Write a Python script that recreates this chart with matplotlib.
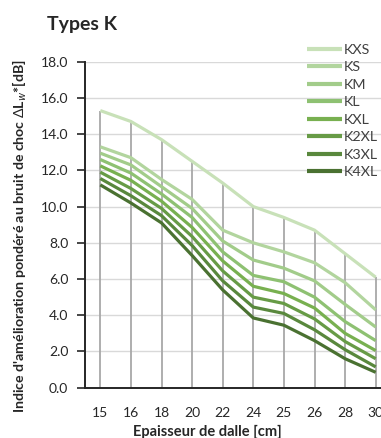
import matplotlib
matplotlib.use("Agg")
import matplotlib.pyplot as plt
import numpy as np

plt.rcParams['font.family'] = ['Lato', 'DejaVu Sans']
plt.rcParams['mathtext.fontset'] = 'custom'
plt.rcParams['mathtext.rm'] = 'Lato'
plt.rcParams['mathtext.bf'] = 'Lato:bold'

# Slab thickness categories (cm)
thickness = ["15", "16", "18", "20", "22", "24", "25", "26", "28", "30"]

# Impact sound improvement index per product type (dB)
KXS = [15.3, 14.7, 13.7, 12.5, 11.3, 10.0, 9.4, 8.7, 7.4, 6.1]
KS = [13.3, 12.7, 11.5, 10.4, 8.7, 8.0, 7.5, 6.9, 5.8, 4.3]
KM = [12.95, 12.3, 11.1, 9.9, 8.1, 7.05, 6.6, 5.9, 4.6, 3.35]
KL = [12.6, 11.85, 10.7, 9.4, 7.5, 6.2, 5.85, 5.0, 3.65, 2.6]
KXL = [12.25, 11.45, 10.3, 8.85, 7.0, 5.6, 5.2, 4.4, 3.0, 2.05]
K2XL = [11.9, 11.0, 9.9, 8.35, 6.45, 5.0, 4.65, 3.8, 2.55, 1.6]
K3XL = [11.55, 10.6, 9.5, 7.85, 5.9, 4.45, 4.1, 3.2, 2.1, 1.15]
K4XL = [11.2, 10.2, 9.1, 7.3, 5.4, 3.85, 3.45, 2.6, 1.6, 0.85]

series_names = ["KXS", "KS", "KM", "KL", "KXL", "K2XL", "K3XL", "K4XL"]
series_values = [KXS, KS, KM, KL, KXL, K2XL, K3XL, K4XL]
colors = ["#c8e1b8", "#b2d59e", "#a2cc8a", "#8ec172", "#78b050", "#679b46",
          "#59883d", "#4a7131"]

y_ticks = [0, 2, 4, 6, 8, 10, 12, 14, 16, 18]

W, H = 381, 438
fig = plt.figure(figsize=(W / 100, H / 100), dpi=100)
ax = fig.add_axes([85 / W, 50.3 / H, 306 / W, 326 / H])

x = np.arange(len(thickness))

# horizontal grid
for yt in y_ticks:
    ax.axhline(yt, color="#d9d9d9", lw=1.0, zorder=0)

# drop lines from the upper series down to the axis
ax.vlines(x, 0, KXS, colors="#a8a8a8", lw=1.3, zorder=1)

for name, vals, c in zip(series_names, series_values, colors):
    ax.plot(x, vals, color=c, lw=2.3, label=name, zorder=3,
            solid_capstyle="butt", solid_joinstyle="miter")

ax.set_xlim(-0.5, 9.5)
ax.set_ylim(0, 18)
ax.set_xticks(x)
ax.set_xticklabels(thickness)
ax.set_yticks(y_ticks)
ax.set_yticklabels([f"{v:.1f}" for v in y_ticks])

for s in ["top", "right"]:
    ax.spines[s].set_visible(False)
ax.spines["left"].set_linewidth(1.4)
ax.spines["bottom"].set_linewidth(1.4)
ax.spines["left"].set_color("#262626")
ax.spines["bottom"].set_color("#262626")

ax.tick_params(axis="x", length=0, pad=14, labelsize=10, labelcolor="#262626")
ax.tick_params(axis="y", length=6, width=1.2, direction="out", pad=6,
               labelsize=10, labelcolor="#262626", color="#262626")

ax.set_xlabel("Epaisseur de dalle [cm]", fontsize=10.5, fontweight="bold",
              color="#262626")
ax.xaxis.set_label_coords((207.5 - 85) / 306, -(431.5 - 387.7) / 326)
ax.xaxis.label.set_va("center")

ax.set_ylabel(r"Indice d'amélioration pondéré au bruit de choc $\Delta$L$_{w}$*[dB]",
              fontsize=10.2, fontweight="bold", color="#262626")
ax.yaxis.set_label_coords((20 - 85) / 306, (438 - 236.5 - 50.3) / 326)
ax.yaxis.label.set_va("center")

fig.text(47 / W, 1 - 30 / H, "Types K", fontsize=14, fontweight="bold",
         color="#262626", ha="left", va="baseline")

leg = ax.legend(loc="upper left", bbox_to_anchor=(307 / W, 1 - 44 / H),
                bbox_transform=fig.transFigure, frameon=False,
                fontsize=10.3, handlelength=2.45, handletextpad=0.15,
                labelspacing=0.38, borderpad=0, borderaxespad=0)
for t in leg.get_texts():
    t.set_color("#404040")
for h in leg.get_lines():
    h.set_linewidth(3)

fig.savefig("out.png", dpi=100)
